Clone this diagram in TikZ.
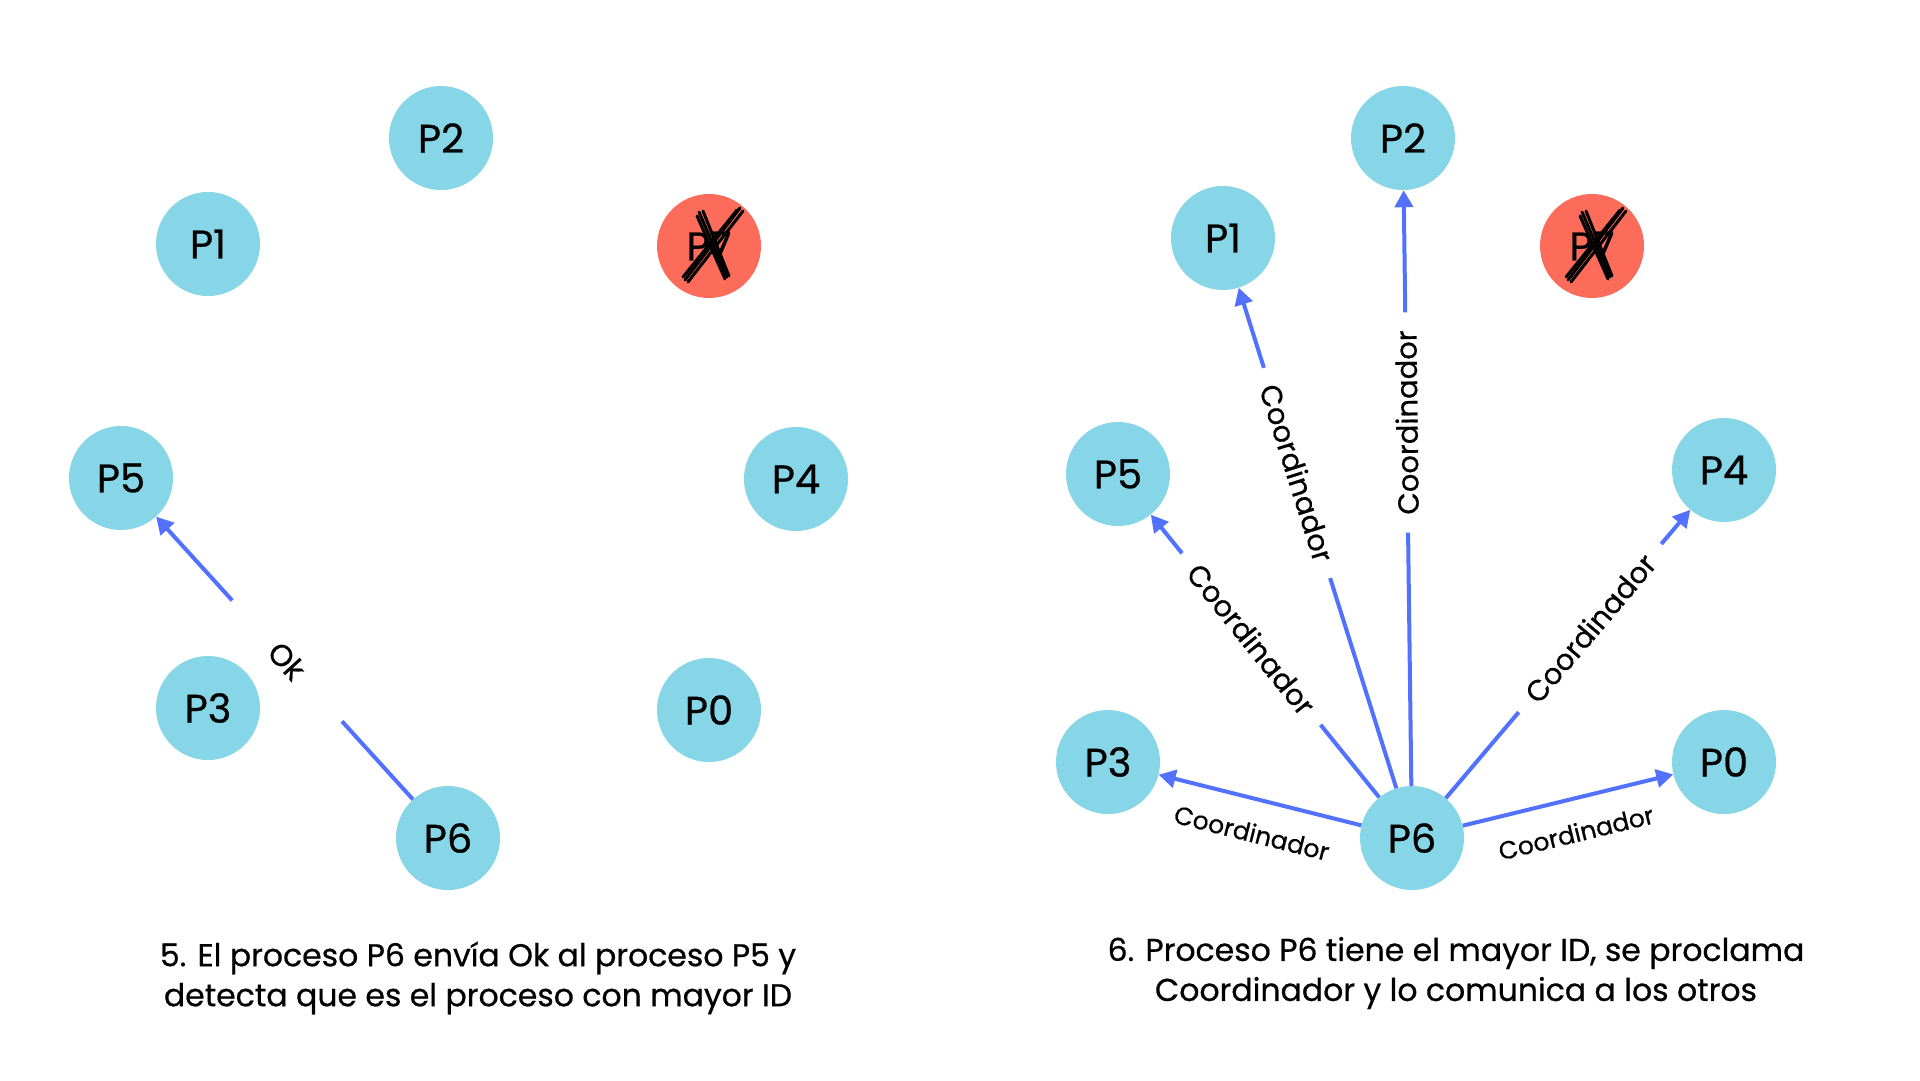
\documentclass[tikz,border=0pt]{standalone}
\usepackage{fontspec}
\setmainfont{Poppins}[FakeBold=0.6]
\usetikzlibrary{arrows.meta}
\definecolor{nodeblue}{HTML}{86D6E8}
\definecolor{deadred}{HTML}{FD6C5B}
\definecolor{arrowblue}{HTML}{5271FF}
\begin{document}
\begin{tikzpicture}[x=1pt,y=-1pt,
  proc/.style={circle, fill=nodeblue, minimum size=104pt, inner sep=0pt, font=\fontsize{40}{46}\selectfont},
  dead/.style={proc, fill=deadred},
  msg/.style={draw=arrowblue, line width=4pt, -{Triangle[length=17pt,width=18pt]}},
  cut/.style={sloped, fill=white, inner xsep=18pt, inner ysep=3pt, font=\fontsize{29}{32}\selectfont},
  side/.style={sloped, inner sep=22pt, font=\fontsize{25}{28}\selectfont},
  caption/.style={align=center, font=\fontsize{31.5}{40}\selectfont},
  scribble/.style={line width=3pt, line cap=round, black}
]
\useasboundingbox[fill=white] (0,0) rectangle (1920,1080);

% ---------- left panel ----------
\node[proc] (lP2) at (441,138) {P2};
\node[proc] (lP1) at (208,244) {P1};
\node[dead] (lP7) at (709,246) {P7};
\node[proc] (lP5) at (121,478) {P5};
\node[proc] (lP4) at (796,479) {P4};
\node[proc] (lP3) at (208,708) {P3};
\node[proc] (lP0) at (709,710) {P0};
\node[proc] (lP6) at (448,838) {P6};

\begin{scope}[shift={(lP7)}]
  \draw[scribble] (-10,-34) -- (18,31);
  \draw[scribble] (-6,-35) -- (20,30);
  \draw[scribble] (-12,-30) -- (16,33);
  \draw[scribble] (31,-38) -- (-24,34);
  \draw[scribble] (28,-36) -- (-26,31);
  \draw[scribble] (34,-35) -- (-21,36);
\end{scope}

\draw[msg] (lP6) -- node[cut, pos=0.49, minimum width=163pt, font=\fontsize{30}{32}\selectfont] (okl) {Ok} (lP5);

\node[caption] (capl) at (478,978) {5. El proceso P6 envía Ok al proceso P5 y\\detecta que es el proceso con mayor ID};

% ---------- right panel ----------
\node[proc] (rP2) at (1403,138) {P2};
\node[proc] (rP1) at (1223,238) {P1};
\node[dead] (rP7) at (1592,246) {P7};
\node[proc] (rP5) at (1118,474) {P5};
\node[proc] (rP4) at (1724,470) {P4};
\node[proc] (rP3) at (1108,762) {P3};
\node[proc] (rP0) at (1724,762) {P0};
\node[proc] (rP6) at (1412,838) {P6};

\begin{scope}[shift={(rP7)}]
  \draw[scribble] (-10,-34) -- (18,31);
  \draw[scribble] (-6,-35) -- (20,30);
  \draw[scribble] (-12,-30) -- (16,33);
  \draw[scribble] (31,-38) -- (-24,34);
  \draw[scribble] (28,-36) -- (-26,31);
  \draw[scribble] (34,-35) -- (-21,36);
\end{scope}

\draw[msg] (rP6) -- node[cut, pos=0.63] (c1) {Coordinador} (rP1);
\draw[msg] (rP6) -- node[cut, pos=0.61, allow upside down] (c2) {Coordinador} (rP2);
\draw[msg] (rP6) -- node[cut, pos=0.56] (c5) {Coordinador} (rP5);
\draw[msg] (rP6) -- node[cut, pos=0.59] (c4) {Coordinador} (rP4);
\draw[msg] (rP6) -- node[side, below, midway] (c3) {Coordinador} (rP3);
\draw[msg] (rP6) -- node[side, below, midway] (c0) {Coordinador} (rP0);

\node[caption] (capr) at (1456,973) {6. Proceso P6 tiene el mayor ID, se proclama\\Coordinador y lo comunica a los otros};
\end{tikzpicture}
\end{document}
